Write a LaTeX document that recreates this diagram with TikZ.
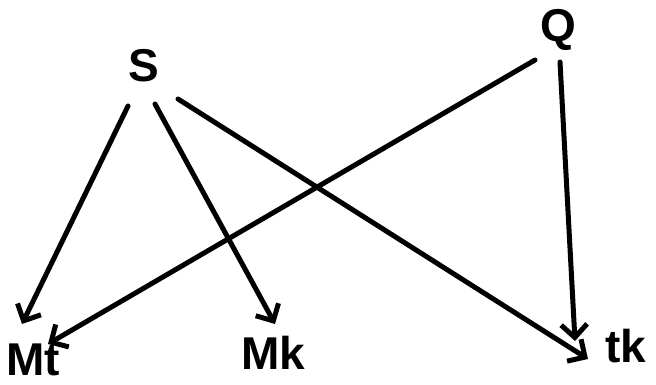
\documentclass[tikz,border=0pt]{standalone}
\usepackage{fontspec}
\setmainfont{Liberation Sans}
\usetikzlibrary{arrows.meta}
\begin{document}
\begin{tikzpicture}[x=1pt,y=-1pt,
  lbl/.style={font=\fontsize{46}{46}\selectfont\bfseries, inner sep=0pt},
  conn/.style={line width=5pt, line cap=round, -{Straight Barb[length=13pt,width=26pt,line width=5pt]}}]
\useasboundingbox[fill=white] (0,0) rectangle (656,384);
\node[lbl] (S) at (144,66) {S};
\node[lbl] (Q) at (558,30) {Q};
\node[lbl] (Mt) at (33,360) {Mt};
\node[lbl] (Mk) at (273,353) {Mk};
\node[lbl] (tk) at (626,346) {tk};
\draw[conn] ([shift={(-16,40)}]S.center) -- ([shift={(-11,-36)}]Mt.center);
\draw[conn] ([shift={(11,38)}]S.center) -- ([shift={(2,-29)}]Mk.center);
\draw[conn] ([shift={(34,33)}]S.center) -- ([shift={(-38,13)}]tk.center);
\draw[conn] ([shift={(-23,30)}]Q.center) -- ([shift={(15,-16)}]Mt.center);
\draw[conn] ([shift={(2,32)}]Q.center) -- ([shift={(-51,-5)}]tk.center);
\end{tikzpicture}
\end{document}
